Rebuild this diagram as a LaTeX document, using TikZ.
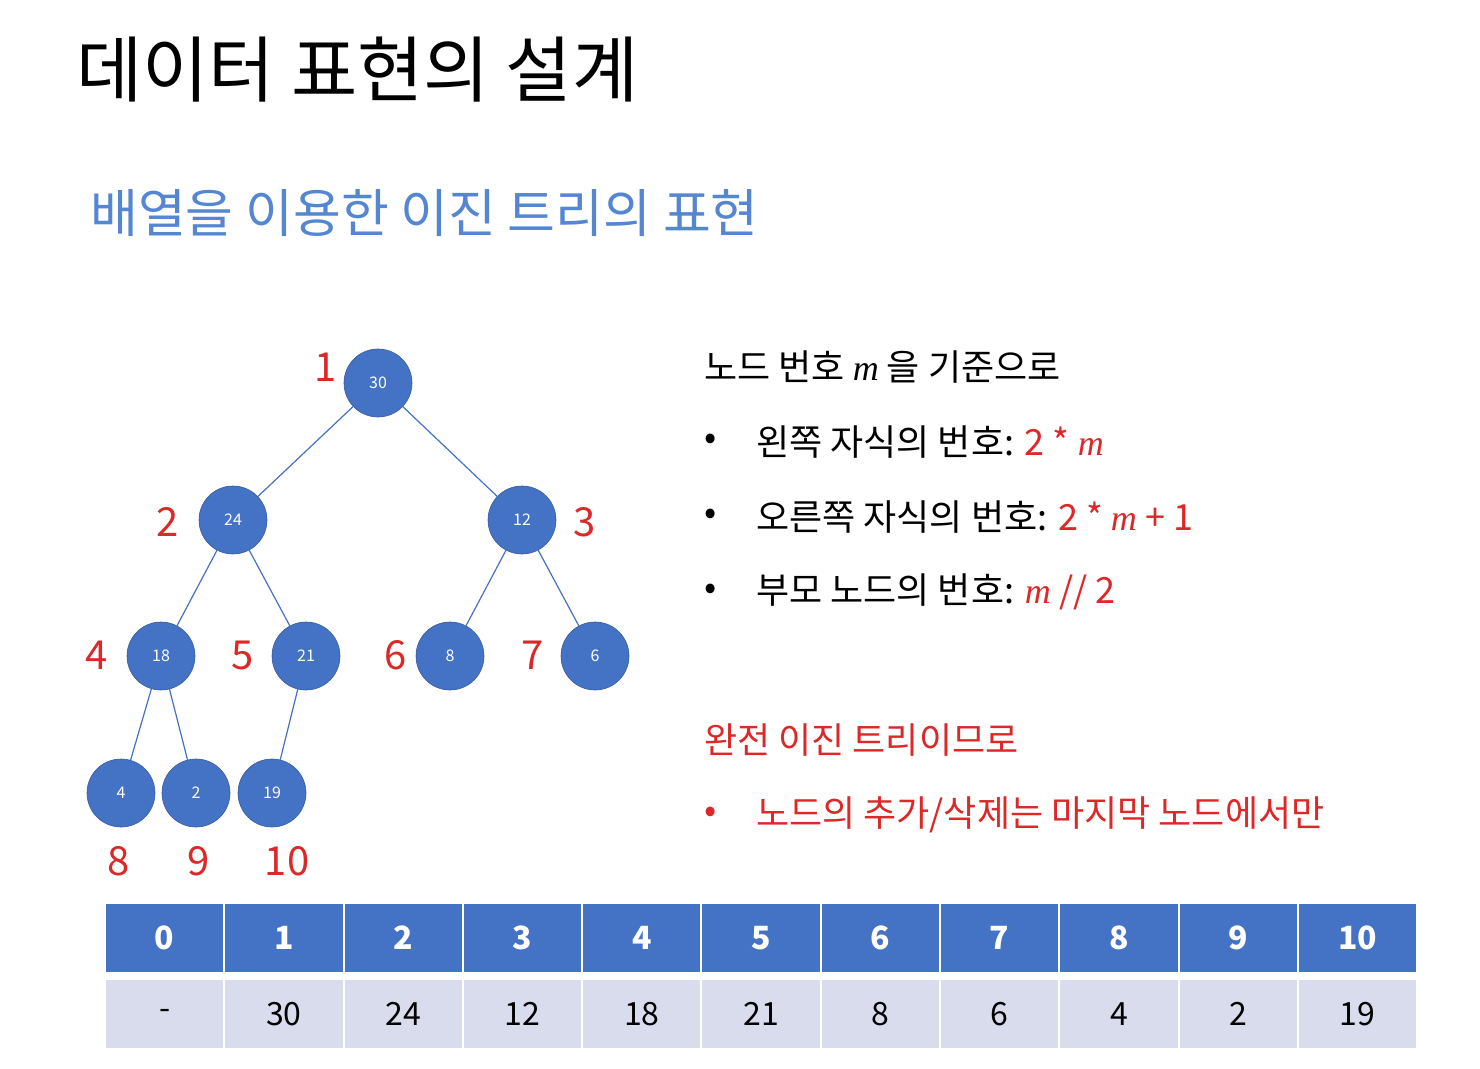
\documentclass[tikz,border=0pt]{standalone}
\usepackage{fontspec}
\setmainfont{Noto Sans CJK KR}
\newfontfamily\myserif{Liberation Serif}
\newcommand{\mm}{{\myserif\itshape m}}
\definecolor{nblue}{RGB}{68,114,196}
\definecolor{sblue}{RGB}{84,134,210}
\definecolor{lred}{RGB}{220,40,40}
\definecolor{rowg}{RGB}{216,220,236}
\begin{document}
\begin{tikzpicture}[x=1pt,y=-1pt,
  tn/.style={circle,fill=nblue,draw=nblue!80!black,line width=0.6pt,minimum size=68pt,inner sep=0pt,text=white,font=\fontsize{16}{18}\selectfont},
  lab/.style={text=lred,font=\fontsize{40}{44}\selectfont,inner sep=0pt},
  edge/.style={draw=nblue,line width=1.2pt},
  txt/.style={anchor=west,inner sep=0pt,font=\fontsize{36}{40}\selectfont},
  hc/.style={fill=nblue,draw=white,line width=2pt,minimum width=119.3pt,minimum height=70pt,inner sep=0pt,text=white,font=\bfseries\fontsize{32}{36}\selectfont},
  dc/.style={fill=rowg,draw=white,line width=2pt,minimum width=119.3pt,minimum height=70pt,inner sep=0pt,font=\fontsize{32}{36}\selectfont}]
\useasboundingbox (0,0) rectangle (1480,1068);
\fill[white] (0,0) rectangle (1480,1068);
\node[anchor=west,inner sep=0pt,font=\fontsize{72}{80}\selectfont] (title) at (76,70) {데이터 표현의 설계};
\node[anchor=west,inner sep=0pt,text=sblue,font=\fontsize{52}{60}\selectfont] (sub) at (90,213) {배열을 이용한 이진 트리의 표현};
\node[tn] (n1) at (378,383) {30};
\node[tn] (n2) at (233,520) {24};
\node[tn] (n3) at (522,520) {12};
\node[tn] (n4) at (161,656) {18};
\node[tn] (n5) at (306,656) {21};
\node[tn] (n6) at (450,656) {8};
\node[tn] (n7) at (595,656) {6};
\node[tn] (n8) at (121,793) {4};
\node[tn] (n9) at (196,793) {2};
\node[tn] (n10) at (272,793) {19};
\draw[edge] (n1)--(n2); \draw[edge] (n1)--(n3);
\draw[edge] (n2)--(n4); \draw[edge] (n2)--(n5);
\draw[edge] (n3)--(n6); \draw[edge] (n3)--(n7);
\draw[edge] (n4)--(n8); \draw[edge] (n4)--(n9);
\draw[edge] (n5)--(n10);
\node[lab] (l1) at (326,367) {1};
\node[lab] (l2) at (168,522) {2};
\node[lab] (l3) at (585,522) {3};
\node[lab] (l4) at (97,655) {4};
\node[lab] (l5) at (243,655) {5};
\node[lab] (l6) at (396,655) {6};
\node[lab] (l7) at (533,655) {7};
\node[lab] (l8) at (119,861) {8};
\node[lab] (l9) at (199,861) {9};
\node[lab] (l10) at (287,861) {10};
\node[txt] (t0) at (704,367) {노드 번호 \mm{} 을 기준으로};
\node[txt] (b1) at (704,442) {•};
\node[txt] (t1) at (756,442) {왼쪽 자식의 번호: \textcolor{lred}{2 * \mm}};
\node[txt] (b2) at (704,517) {•};
\node[txt] (t2) at (756,517) {오른쪽 자식의 번호: \textcolor{lred}{2 * \mm{} + 1}};
\node[txt] (b3) at (704,592) {•};
\node[txt] (t3) at (756,592) {부모 노드의 번호: \textcolor{lred}{\mm{} // 2}};
\node[txt,text=lred] (t4) at (704,740) {완전 이진 트리이므로};
\node[txt,text=lred] (b4) at (704,815) {•};
\node[txt,text=lred] (t5) at (756,815) {노드의 추가/삭제는 마지막 노드에서만};
\foreach \i/\v in {0/-,1/30,2/24,3/12,4/18,5/21,6/8,7/6,8/4,9/2,10/19}{
  \node[hc] (h\i) at ({164.6+119.3*\i},938) {\i};
  \node[dc] (d\i) at ({164.6+119.3*\i},1014) {\v};
}
\end{tikzpicture}
\end{document}
